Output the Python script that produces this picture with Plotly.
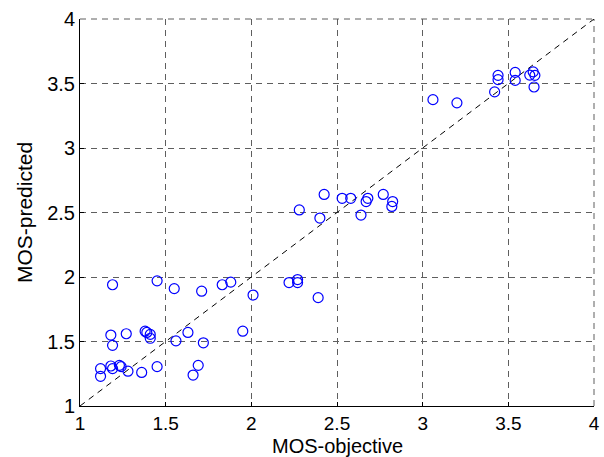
import plotly.graph_objects as go

mos_objective = [1.19, 1.45, 1.55, 1.71, 1.83, 1.88, 2.01,
                 1.18, 1.19, 1.27, 1.38, 1.39, 1.41, 1.41, 1.56, 1.63, 1.72, 1.95,
                 1.12, 1.12, 1.18, 1.19, 1.23, 1.24, 1.28, 1.36, 1.45, 1.69, 1.66,
                 2.22, 2.27, 2.27, 2.39,
                 2.28, 2.40, 2.425, 2.53, 2.58, 2.64, 2.67, 2.68, 2.77, 2.825, 2.82,
                 3.06, 3.20, 3.42, 3.44, 3.44, 3.54, 3.54, 3.625, 3.645, 3.655, 3.65]
mos_predicted = [1.94, 1.97, 1.91, 1.89, 1.94, 1.96, 1.86,
                 1.55, 1.47, 1.56, 1.58, 1.57, 1.555, 1.525, 1.505, 1.57, 1.49, 1.58,
                 1.29, 1.23, 1.31, 1.29, 1.315, 1.305, 1.27, 1.26, 1.305, 1.315, 1.24,
                 1.957, 1.98, 1.957, 1.84,
                 2.52, 2.457, 2.64, 2.61, 2.61, 2.48, 2.585, 2.61, 2.64, 2.585, 2.547,
                 3.375, 3.35, 3.435, 3.563, 3.53, 3.586, 3.524, 3.565, 3.59, 3.563, 3.473]
diag = [1, 4]
ticks = [1, 1.5, 2, 2.5, 3, 3.5, 4]
tick_labels = ["1", "1.5", "2", "2.5", "3", "3.5", "4"]
x_title = "MOS-objective"
y_title = "MOS-predicted"

FONT = "Liberation Sans, Arial, sans-serif"
GRID = "#5e5e5e"
DASH = "6px,5px"

fig = go.Figure()
fig.add_trace(go.Scatter(x=diag, y=diag, mode="lines",
                         line=dict(color="black", width=1, dash=DASH),
                         hoverinfo="skip", showlegend=False))
fig.add_trace(go.Scatter(x=mos_objective, y=mos_predicted, mode="markers",
                         marker=dict(symbol="circle-open", size=10, color="#0000ff",
                                     line=dict(width=1.2, color="#0000ff")),
                         showlegend=False))

axis_common = dict(range=[1, 4], tickvals=ticks, ticktext=tick_labels,
                   showgrid=True, gridcolor=GRID, gridwidth=1, griddash=DASH,
                   showline=True, linecolor="black", linewidth=1, mirror=False,
                   ticks="inside", ticklen=4, tickcolor="black",
                   zeroline=False, automargin=False)

fig.update_xaxes(**axis_common, ticklabelstandoff=0,
                 tickfont=dict(family=FONT, size=19, color="black"))
fig.update_yaxes(**axis_common,
                 tickfont=dict(family=FONT, size=20, color="black"),
                 title=dict(text=y_title, standoff=8,
                            font=dict(family=FONT, size=21, color="black")))

fig.add_annotation(text=x_title, xref="paper", yref="paper", x=0.5, y=0,
                   xanchor="center", yanchor="top", yshift=-27, showarrow=False,
                   font=dict(family=FONT, size=20, color="black"))

# dashed frame edges at top and right (grid lines on the range ends)
fig.add_shape(type="line", xref="x domain", yref="y domain", x0=0, x1=1, y0=1, y1=1,
              line=dict(color=GRID, width=1, dash=DASH), layer="below")
fig.add_shape(type="line", xref="x domain", yref="y domain", x0=1, x1=1, y0=0, y1=1,
              line=dict(color=GRID, width=1, dash=DASH), layer="below")

fig.update_layout(width=604, height=457,
                  margin=dict(l=80, r=10, t=19, b=51, autoexpand=False),
                  paper_bgcolor="white", plot_bgcolor="white")

fig.write_html("out.html", config={"displayModeBar": False},
               post_script="document.body.style.margin='0';")
